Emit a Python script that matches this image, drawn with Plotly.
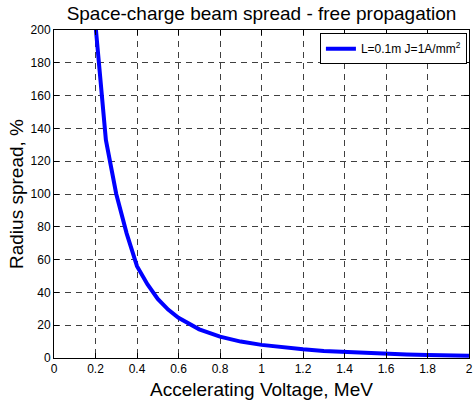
import plotly.graph_objects as go

# Accelerating voltage (MeV) and relative radius spread (%)
voltage_mev = [0.2, 0.25, 0.3, 0.35, 0.4, 0.45, 0.5, 0.55, 0.6, 0.7, 0.8, 0.9,
               1.0, 1.1, 1.2, 1.3, 1.4, 1.5, 1.6, 1.7, 1.8, 1.9, 2.0]
radius_spread_pct = [203, 133, 100, 76, 56, 45, 36, 29.5, 24.5, 17.5, 13, 10,
                     8, 6.5, 5.3, 4.3, 3.6, 3.0, 2.5, 2.1, 1.8, 1.5, 1.3]

x_ticks = [0, 0.2, 0.4, 0.6, 0.8, 1, 1.2, 1.4, 1.6, 1.8, 2]
x_tick_text = ["0", "0.2", "0.4", "0.6", "0.8", "1", "1.2", "1.4", "1.6", "1.8", "2"]
y_ticks = list(range(0, 201, 20))

font_family = "Liberation Sans, Arial, sans-serif"

fig = go.Figure()
fig.add_trace(go.Scatter(
    x=voltage_mev,
    y=radius_spread_pct,
    mode="lines",
    line=dict(color="#0000FF", width=4),
    name="L=0.1m J=1A/mm<sup>2</sup>",
    cliponaxis=True,
))

axis_common = dict(
    showline=True,
    linecolor="black",
    linewidth=1,
    mirror="ticks",
    ticks="inside",
    ticklen=5,
    tickcolor="black",
    showgrid=True,
    gridcolor="rgba(0,0,0,0.75)",
    gridwidth=1,
    griddash="6px,5px",
    zeroline=False,
    ticklabeloverflow="allow",
    tickfont=dict(family=font_family, size=12, color="black"),
)

fig.update_xaxes(
    range=[0, 2],
    tickvals=x_ticks,
    ticktext=x_tick_text,
    title=dict(text="Accelerating Voltage, MeV",
               font=dict(family=font_family, size=19, color="black"),
               standoff=7),
    **axis_common,
)
fig.update_yaxes(
    range=[0, 200],
    tickvals=y_ticks,
    title=dict(text="Radius spread, %",
               font=dict(family=font_family, size=19, color="black"),
               standoff=1),
    **axis_common,
)

fig.update_layout(
    width=474,
    height=407,
    margin=dict(l=54, r=1, t=30, b=49),
    paper_bgcolor="white",
    plot_bgcolor="white",
    title=dict(text="Space-charge beam spread - free propagation",
               font=dict(family=font_family, size=19, color="black"),
               x=0.5, xref="paper", xanchor="center",
               yref="container", y=1 - 13 / 407, yanchor="middle"),
    showlegend=True,
    legend=dict(
        x=0.995, y=0.99, xanchor="right", yanchor="top",
        bgcolor="white",
        bordercolor="black",
        borderwidth=1,
        font=dict(family=font_family, size=12, color="black"),
        itemwidth=30,
    ),
)

fig.write_html("out.html")
